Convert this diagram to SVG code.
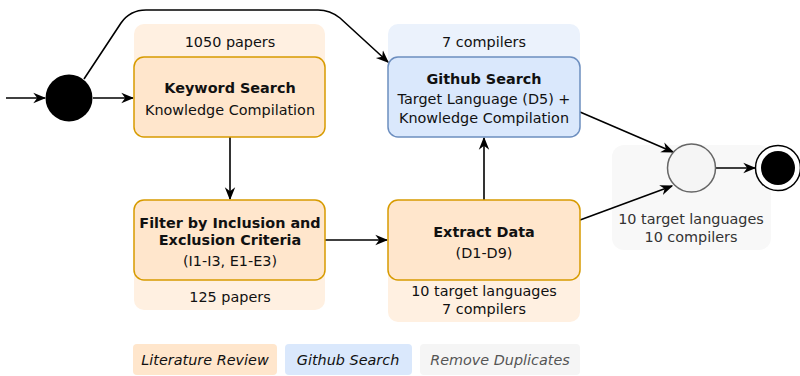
<svg xmlns="http://www.w3.org/2000/svg" width="800" height="376" viewBox="0 0 800 376">
<defs>
<marker id="arr" viewBox="0 0 10 10" refX="9" refY="5" markerWidth="13" markerHeight="13" markerUnits="userSpaceOnUse" orient="auto">
<path d="M0,1 L10,5 L0,9 L3,5 Z" fill="#000"/>
</marker>
<style>
text{font-family:"DejaVu Sans","Liberation Sans",sans-serif;font-size:14.4px;fill:#111;text-anchor:middle}
.b{font-weight:bold}
.i{font-style:italic}
.orange{fill:#ffe6cc;stroke:#d79b00;stroke-width:1.5}
.blue{fill:#dae8fc;stroke:#6c8ebf;stroke-width:1.5}
.po{fill:#fff0e1}
.pb{fill:#ebf2fc}
.pg{fill:#f8f8f8}
.c{fill:none;stroke:#000;stroke-width:1.6;marker-end:url(#arr)}
</style>
</defs>
<rect width="800" height="376" fill="#fff"/>
<!-- panels -->
<rect class="po" x="134" y="24" width="191" height="113" rx="10"/>
<rect class="pb" x="388" y="24" width="192" height="113" rx="10"/>
<rect class="po" x="134" y="200" width="191" height="110" rx="10"/>
<rect class="po" x="388" y="200" width="192" height="122" rx="10"/>
<rect class="pg" x="612" y="145" width="159" height="105" rx="12"/>
<g id="connectors">
<path class="c" d="M6 98 H45"/>
<path class="c" d="M93 98 H133"/>
<path class="c" d="M84 79 L121 23 Q130 10 146 10 L318 10 Q330 10 340 18 L388 62"/>
<path class="c" d="M230 137 V199"/>
<path class="c" d="M325 240 H387"/>
<path class="c" d="M484 200 V138"/>
<path class="c" d="M580 112 L673 152"/>
<path class="c" d="M580 220 L672 186"/>
<path class="c" d="M716 168 H755"/>
</g>
<g id="start"><circle cx="69" cy="98" r="23.5" fill="#000"/></g>
<g id="keyword">
<text x="230" y="47">1050 papers</text>
<rect class="orange" x="134" y="57" width="191" height="80" rx="10"/>
<text class="b" x="230" y="93">Keyword Search</text>
<text x="230" y="115">Knowledge Compilation</text>
</g>
<g id="github">
<text x="484" y="47">7 compilers</text>
<rect class="blue" x="388" y="57" width="192" height="80" rx="10"/>
<text class="b" x="484" y="84">Github Search</text>
<text x="484" y="104">Target Language (D5) +</text>
<text x="484" y="123">Knowledge Compilation</text>
</g>
<g id="filter">
<rect class="orange" x="134" y="200" width="191" height="80" rx="10"/>
<text class="b" x="230" y="228">Filter by Inclusion and</text>
<text class="b" x="230" y="245">Exclusion Criteria</text>
<text x="230" y="266">(I1-I3, E1-E3)</text>
<text x="230" y="302">125 papers</text>
</g>
<g id="extract">
<rect class="orange" x="388" y="200" width="192" height="80" rx="10"/>
<text class="b" x="484" y="237">Extract Data</text>
<text x="484" y="258">(D1-D9)</text>
<text x="484" y="296">10 target languages</text>
<text x="484" y="314">7 compilers</text>
</g>
<g id="merge">
<circle cx="691.5" cy="168" r="24" fill="#f5f5f5" stroke="#666" stroke-width="1.5"/>
<text x="691" y="224" style="fill:#333">10 target languages</text>
<text x="691" y="242" style="fill:#333">10 compilers</text>
</g>
<g id="end">
<circle cx="778" cy="168" r="22.5" fill="#fff" stroke="#000" stroke-width="1.5"/>
<circle cx="778" cy="168" r="17" fill="#000"/>
</g>
<g id="legend">
<rect x="133" y="344" width="144" height="31" rx="4" fill="#ffe6cc"/>
<text class="i" x="205" y="365">Literature Review</text>
<rect x="285" y="344" width="127" height="31" rx="4" fill="#dae8fc"/>
<text class="i" x="348" y="365">Github Search</text>
<rect x="420" y="344" width="160" height="31" rx="4" fill="#f5f5f5"/>
<text class="i" x="500" y="365" style="fill:#555">Remove Duplicates</text>
</g>
</svg>
